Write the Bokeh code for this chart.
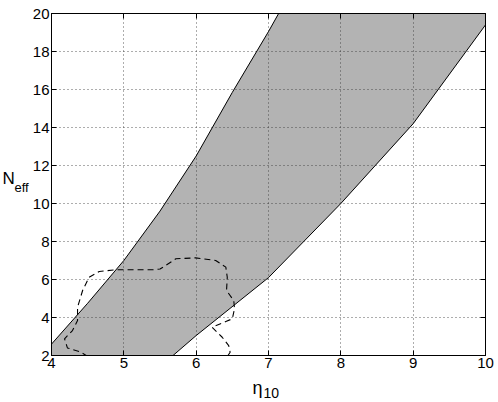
from bokeh.plotting import figure
from bokeh.models import (LinearAxis, FixedTicker, Range1d, Label)
from bokeh.embed import file_html
from bokeh.resources import INLINE

# ---- data ----
x_min, x_max = 4.0, 10.0
y_min, y_max = 2.0, 20.0
x_ticks = [4, 5, 6, 7, 8, 9, 10]
y_ticks = [2, 4, 6, 8, 10, 12, 14, 16, 18, 20]

eta_upper = [4.0, 4.5, 5.0, 5.5, 6.0, 6.5, 7.0, 7.14]
neff_upper = [2.6, 4.75, 7.0, 9.6, 12.5, 15.85, 19.05, 20.0]

eta_lower = [5.68, 6.0, 7.0, 8.0, 9.0, 10.0]
neff_lower = [2.0, 3.05, 6.1, 10.0, 14.2, 19.4]

contour_eta = [4.50, 4.41, 4.22, 4.18, 4.29, 4.36, 4.36, 4.43, 4.52, 4.66, 4.89,
               5.40, 5.50, 5.58, 5.72, 5.99, 6.27, 6.41, 6.43, 6.42, 6.52, 6.53,
               6.50, 6.41, 6.22, 6.36, 6.45, 6.47, 6.43]
contour_neff = [1.95, 2.17, 2.40, 2.88, 3.31, 3.84, 4.54, 5.42, 6.12, 6.42, 6.51,
                6.51, 6.55, 6.74, 7.09, 7.14, 7.00, 6.65, 6.12, 5.42, 4.89, 4.46,
                3.93, 3.79, 3.49, 2.96, 2.52, 2.17, 1.95]

FONT = "Liberation Sans"

p = figure(width=498, height=400, output_backend="svg", toolbar_location=None,
           x_range=Range1d(x_min, x_max), y_range=Range1d(y_min, y_max),
           min_border_left=51, min_border_right=13, min_border_top=13,
           min_border_bottom=45)
p.background_fill_color = "white"
p.border_fill_color = "white"
p.outline_line_color = "black"
p.outline_line_width = 1

# band (drawn beneath the grid)
band_x = eta_upper + [x_max] + eta_lower[::-1] + [x_min]
band_y = neff_upper + [y_max] + neff_lower[::-1] + [y_min]
p.patch(band_x, band_y, fill_color="#b3b3b3", line_color=None, level="underlay")
p.line(eta_upper, neff_upper, line_color="black", line_width=1)
p.line(eta_lower, neff_lower, line_color="black", line_width=1)

# dashed contour
p.line(contour_eta, contour_neff, line_color="black", line_width=1.1,
       line_dash="6 4")

# axes styling
for ax in [p.xaxis[0], p.yaxis[0]]:
    ax.major_tick_in = 5
    ax.major_tick_out = 0
    ax.minor_tick_in = 0
    ax.minor_tick_out = 0
    ax.axis_line_color = "black"
    ax.major_tick_line_color = "black"
    ax.major_label_text_font = FONT
    ax.major_label_text_font_size = "15px"
    ax.major_label_text_color = "black"
    ax.major_label_standoff = 2
p.xaxis[0].ticker = FixedTicker(ticks=x_ticks)
p.yaxis[0].ticker = FixedTicker(ticks=y_ticks)

top_ax = LinearAxis(ticker=FixedTicker(ticks=x_ticks),
                    major_label_overrides={t: "" for t in x_ticks})
right_ax = LinearAxis(ticker=FixedTicker(ticks=y_ticks),
                      major_label_overrides={t: "" for t in y_ticks})
for ax in [top_ax, right_ax]:
    ax.major_tick_in = 5
    ax.major_tick_out = 0
    ax.minor_tick_in = 0
    ax.minor_tick_out = 0
    ax.axis_line_color = "black"
    ax.major_tick_line_color = "black"
    ax.major_label_text_font_size = "1px"
    ax.major_label_standoff = 0
p.add_layout(top_ax, "above")
p.add_layout(right_ax, "right")

# grid
for g in [p.xgrid[0], p.ygrid[0]]:
    g.grid_line_color = "#333333"
    g.grid_line_dash = "1 3"
    g.grid_line_width = 1
    g.grid_line_alpha = 0.8
p.xgrid[0].ticker = FixedTicker(ticks=x_ticks)
p.ygrid[0].ticker = FixedTicker(ticks=y_ticks)

# axis labels with subscripts (placed in side panels so they are not clipped)
lab_N = Label(x=x_min, y=12, x_offset=-49, y_offset=-13, text="N",
              text_font=FONT, text_font_size="17px", text_color="black",
              text_baseline="alphabetic")
lab_eff = Label(x=x_min, y=12, x_offset=-37, y_offset=-22, text="eff",
                text_font=FONT, text_font_size="13px", text_color="black",
                text_baseline="alphabetic")
lab_eta = Label(x=7, y=y_min, x_offset=-16, y_offset=-32, text="\u03b7",
                text_font=FONT, text_font_size="18px", text_color="black",
                text_baseline="alphabetic")
lab_10 = Label(x=7, y=y_min, x_offset=-5, y_offset=-37, text="10",
               text_font=FONT, text_font_size="14px", text_color="black",
               text_baseline="alphabetic")
p.add_layout(lab_N, "left")
p.add_layout(lab_10, "left")
p.add_layout(lab_eff, "below")
p.add_layout(lab_eta, "right")

open("out.html", "w").write(file_html(p, INLINE))
